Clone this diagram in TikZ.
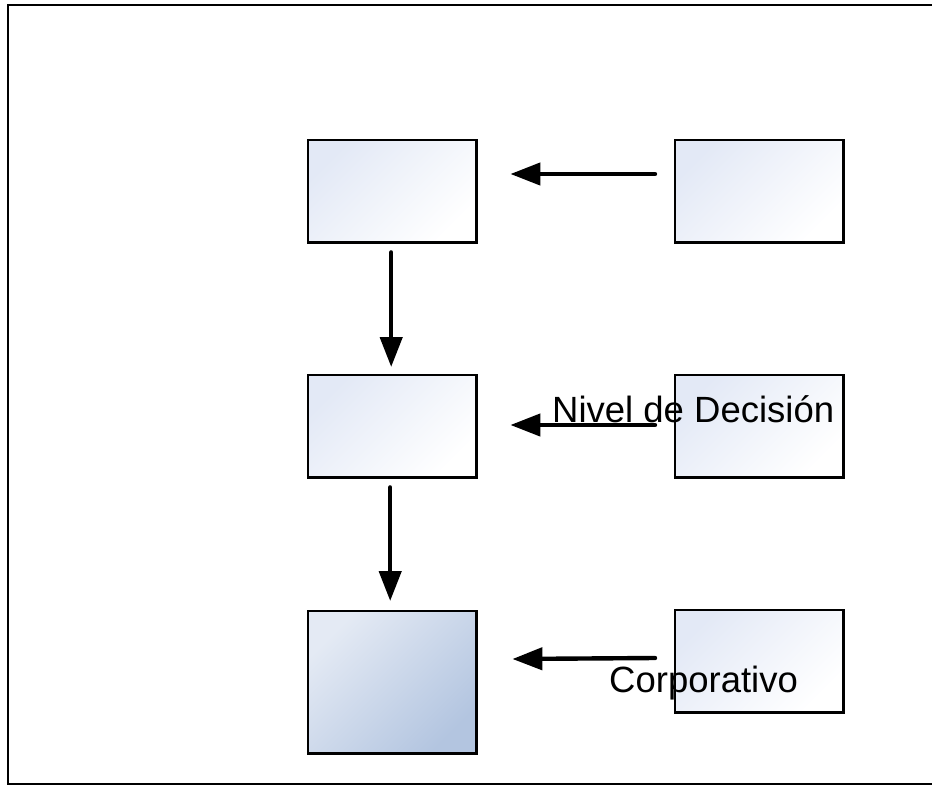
\documentclass[tikz,border=0pt]{standalone}
\usepackage{fontspec}
\setmainfont{Liberation Sans}
\usetikzlibrary{arrows.meta}
\definecolor{paleblue}{HTML}{E3E9F6}
\definecolor{lightblue}{HTML}{E4EAF4}
\definecolor{midblue}{HTML}{B3C5E0}
\tikzset{
  box/.style={minimum width=168pt, minimum height=102pt, inner sep=0pt, anchor=north west,
    top color=paleblue, bottom color=white, shading angle=45},
  darkbox/.style={minimum width=168pt, minimum height=142pt, inner sep=0pt, anchor=north west,
    top color=lightblue, bottom color=midblue, shading angle=45},
  border/.style={draw=black, line width=2.6pt},
  arr/.style={line width=4.4pt, line cap=round, -{Triangle[length=30pt,width=22pt]}},
  lbl/.style={font=\fontsize{36.5}{40}\selectfont, anchor=base west, inner sep=0pt}
}
\begin{document}
\begin{tikzpicture}[x=1pt,y=-1pt]
\useasboundingbox (0,0) rectangle (932,787);
\fill[white] (0,0) rectangle (932,787);
\draw[line width=2.8pt] (940,5) -- (8,5) -- (8,784) -- (940,784);
% boxes (fill)
\node[box] (l1) at (308,140) {};
\node[box] (r1) at (675,140) {};
\node[box] (l2) at (308,375) {};
\node[box] (r2) at (675,375) {};
\node[darkbox] (l3) at (308,611) {};
\node[box] (r3) at (675,610) {};
% labels
\node[lbl] (t1) at (552,422) {Nivel de Decisión};
\node[lbl] (t2) at (609,692) {Corporativo};
% borders
\foreach \n in {l1,r1,l2,r2,l3,r3}
  \draw[border] (\n.north west) rectangle (\n.south east);
% connectors
\draw[arr] ([xshift=-20pt,yshift=-34pt]r1.north west) -- ([xshift=34pt,yshift=-34pt]l1.north east);
\draw[arr] ([xshift=-20pt,yshift=-50pt]r2.north west) -- ([xshift=34pt,yshift=-50pt]l2.north east);
\draw[arr] ([xshift=-20pt,yshift=-48pt]r3.north west) -- ([xshift=36pt,yshift=-48pt]l3.north east);
\draw[arr] ([xshift=-1pt,yshift=-10pt]l1.south) -- ([xshift=-1pt,yshift=8pt]l2.north);
\draw[arr] ([xshift=-2pt,yshift=-10pt]l2.south) -- ([xshift=-2pt,yshift=10pt]l3.north);
\end{tikzpicture}
\end{document}
